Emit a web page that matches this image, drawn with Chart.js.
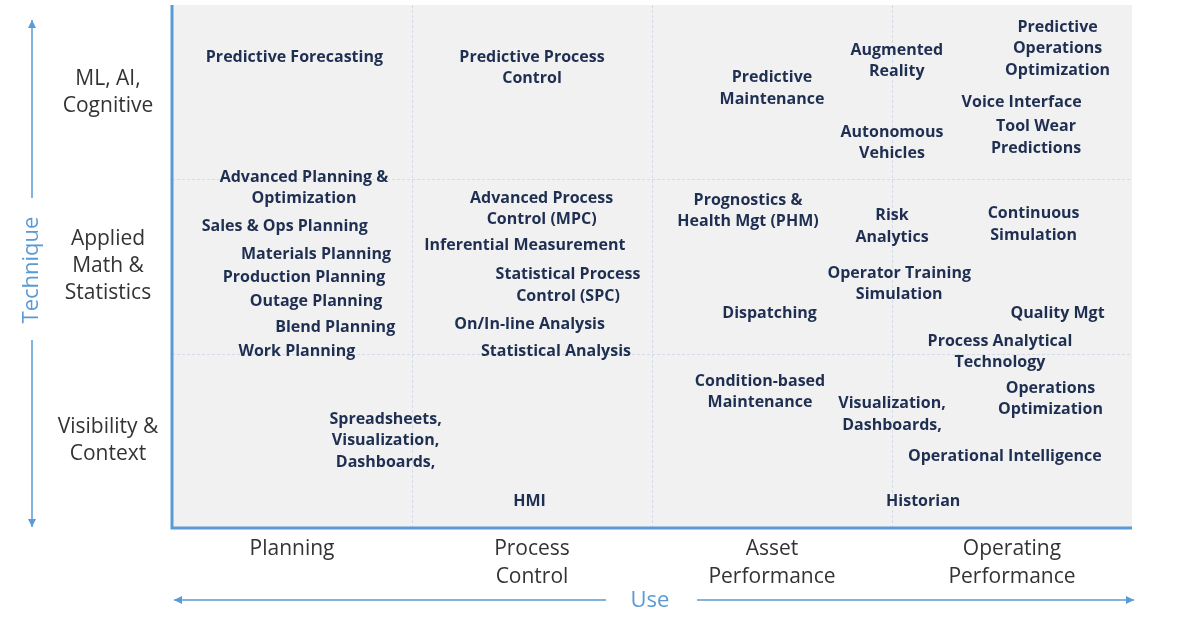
<!DOCTYPE html>
<html><head><meta charset="utf-8">
<script src="https://cdn.jsdelivr.net/npm/chart.js@4"></script>
<style>html,body{margin:0;padding:0;background:#fff}#w{width:1200px;height:630px}</style>
</head><body><div id="w"><canvas id="c"></canvas></div>
<script>
const columnLabels = [["Planning"],["Process","Control"],["Asset","Performance"],["Operating","Performance"]];
const rowLabels = [["Visibility &","Context"],["Applied","Math &","Statistics"],["ML, AI,","Cognitive"]];
const itemLabels = [
 ["Predictive Forecasting"],["Predictive Process","Control"],["Predictive","Maintenance"],["Augmented","Reality"],
 ["Predictive","Operations","Optimization"],["Voice Interface"],["Autonomous","Vehicles"],["Tool Wear","Predictions"],
 ["Advanced Planning &","Optimization"],["Sales & Ops Planning"],["Materials Planning"],["Production Planning"],
 ["Outage Planning"],["Blend Planning"],["Work Planning"],["Advanced Process","Control (MPC)"],
 ["Inferential Measurement"],["Statistical Process","Control (SPC)"],["On/In-line Analysis"],["Statistical Analysis"],
 ["Prognostics &","Health Mgt (PHM)"],["Risk","Analytics"],["Continuous","Simulation"],["Operator Training","Simulation"],
 ["Dispatching"],["Quality Mgt"],["Process Analytical","Technology"],["Condition-based","Maintenance"],
 ["Visualization,","Dashboards,"],["Operations","Optimization"],["Operational Intelligence"],
 ["Spreadsheets,","Visualization,","Dashboards,"],["HMI"],["Historian"]
];
const useX = [0.51,1.50,2.50,3.02,3.69,3.54,3.00,3.60,0.55,0.47,0.60,0.55,0.60,0.68,0.52,1.54,1.47,1.65,1.49,1.60,2.40,3.00,3.59,3.03,2.49,3.69,3.45,2.45,3.00,3.66,3.47,0.89,1.49,3.13];
const techY = [2.70,2.64,2.52,2.68,2.75,2.44,2.21,2.24,1.95,1.73,1.57,1.44,1.30,1.15,1.01,1.83,1.62,1.39,1.17,1.01,1.82,1.73,1.74,1.40,1.23,1.23,1.01,0.78,0.65,0.74,0.41,0.50,0.15,0.15];
const axisTitleX = "Use", axisTitleY = "Technique";

const BLUE = "#5b9bd5", NAVY = "#1f2f52";
const deco = {
 id:"deco",
 beforeDatasetsDraw(ch){
  const {ctx, chartArea:a, scales:{x,y}} = ch;
  ctx.save();
  ctx.fillStyle="#f1f1f1"; ctx.fillRect(a.left,a.top,a.right-a.left,a.bottom-a.top);
  ctx.strokeStyle="#d3dce8"; ctx.lineWidth=1; ctx.setLineDash([3,2]);
  for(let i=1;i<4;i++){const px=Math.round(x.getPixelForValue(i))+0.5;ctx.beginPath();ctx.moveTo(px,a.top);ctx.lineTo(px,a.bottom);ctx.stroke();}
  for(let j=1;j<3;j++){const py=Math.round(y.getPixelForValue(j))+0.5;ctx.beginPath();ctx.moveTo(a.left,py);ctx.lineTo(a.right,py);ctx.stroke();}
  ctx.setLineDash([]);
  ctx.strokeStyle=BLUE; ctx.lineWidth=3;
  ctx.beginPath();ctx.moveTo(a.left,a.top);ctx.lineTo(a.left,a.bottom);ctx.lineTo(a.right,a.bottom);ctx.stroke();
  // category labels
  ctx.fillStyle="#333"; ctx.font="21px 'Open Sans', sans-serif"; ctx.textAlign="center"; ctx.textBaseline="middle";
  columnLabels.forEach((l,i)=>{const cx=x.getPixelForValue(i+0.5);l.forEach((s,k)=>ctx.fillText(s,cx,a.bottom+21+k*28+(l.length===1?0:0)));});
  rowLabels.forEach((l,j)=>{const cy=y.getPixelForValue(j+0.5);const n=l.length;l.forEach((s,k)=>ctx.fillText(s,108,cy+(k-(n-1)/2)*27));});
  // axis titles and arrows
  ctx.fillStyle=BLUE; ctx.strokeStyle=BLUE; ctx.lineWidth=1.5;
  ctx.font="22px 'Open Sans', sans-serif";
  ctx.fillText(axisTitleX,650,601);
  const ay=600;
  ctx.beginPath();ctx.moveTo(174,ay);ctx.lineTo(606,ay);ctx.moveTo(697,ay);ctx.lineTo(1134,ay);ctx.stroke();
  ctx.beginPath();ctx.moveTo(174,ay);ctx.lineTo(182,ay-4);ctx.lineTo(182,ay+4);ctx.fill();
  ctx.beginPath();ctx.moveTo(1134,ay);ctx.lineTo(1126,ay-4);ctx.lineTo(1126,ay+4);ctx.fill();
  const ax=32;
  ctx.beginPath();ctx.moveTo(ax,20);ctx.lineTo(ax,198);ctx.moveTo(ax,340);ctx.lineTo(ax,527);ctx.stroke();
  ctx.beginPath();ctx.moveTo(ax,20);ctx.lineTo(ax-4,28);ctx.lineTo(ax+4,28);ctx.fill();
  ctx.beginPath();ctx.moveTo(ax,527);ctx.lineTo(ax-4,519);ctx.lineTo(ax+4,519);ctx.fill();
  ctx.save();ctx.translate(ax,270);ctx.rotate(-Math.PI/2);ctx.fillText(axisTitleY,0,0);ctx.restore();
  ctx.restore();
 },
 afterDatasetsDraw(ch){
  const ctx=ch.ctx, meta=ch.getDatasetMeta(0);
  ctx.save(); ctx.fillStyle=NAVY; ctx.font="bold 16px 'Open Sans', sans-serif"; ctx.textAlign="center"; ctx.textBaseline="middle";
  meta.data.forEach((pt,i)=>{const l=itemLabels[i],n=l.length;l.forEach((s,k)=>ctx.fillText(s,pt.x,pt.y+(k-(n-1)/2)*21.5));});
  ctx.restore();
 }
};
new Chart(document.getElementById("c"),{
 type:"scatter",
 data:{datasets:[{data:useX.map((v,i)=>({x:v,y:techY[i]})),pointRadius:0,pointHoverRadius:0}]},
 options:{responsive:true,maintainAspectRatio:false,animation:false,
  layout:{padding:{left:172,right:68,top:5,bottom:102}},
  plugins:{legend:{display:false},tooltip:{enabled:false}},
  scales:{x:{type:"linear",min:0,max:4,display:false},y:{type:"linear",min:0,max:3,display:false}}},
 plugins:[deco]
});
</script></body></html>
